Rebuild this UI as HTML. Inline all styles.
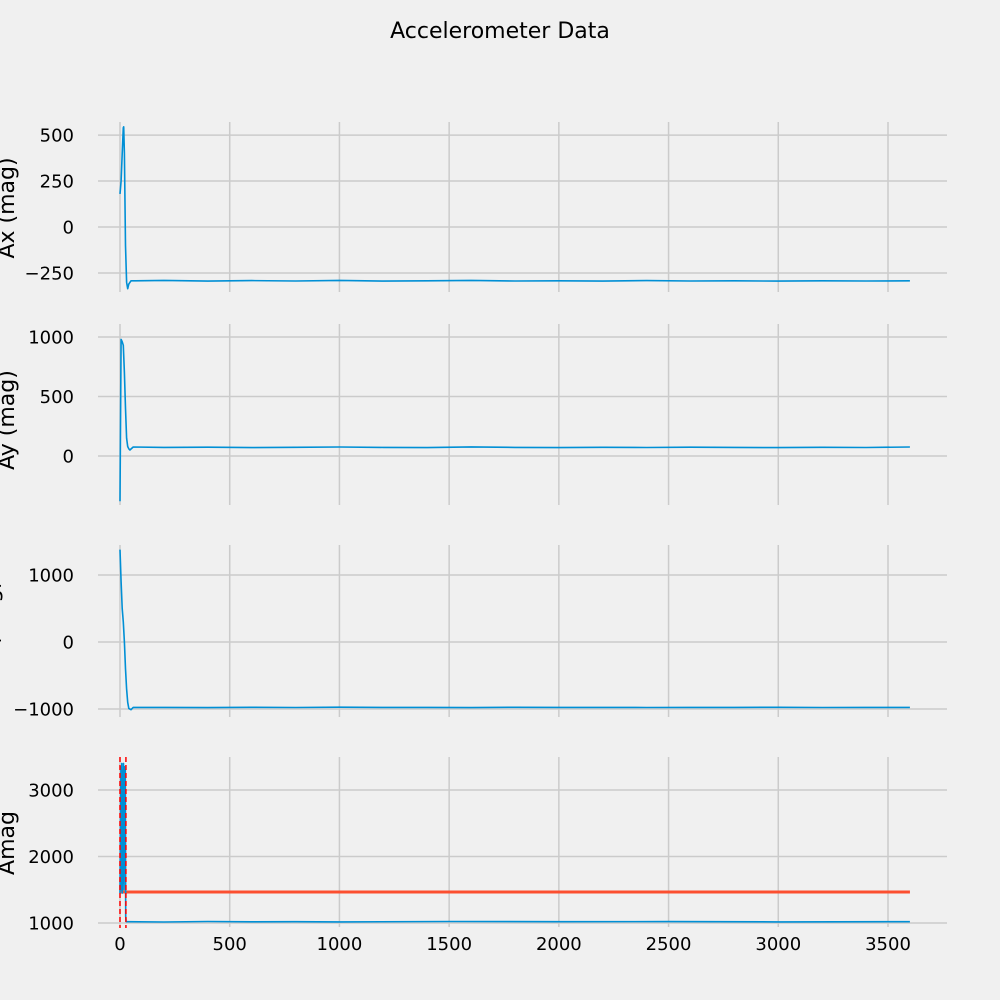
<!DOCTYPE html>
<html><head><meta charset="utf-8"><style>
html,body{margin:0;padding:0;background:#f0f0f0;}
svg{display:block;font-family:"DejaVu Sans","Liberation Sans",sans-serif;}
</style></head><body>
<svg id="chart" width="1000" height="1000" viewBox="0 0 1000 1000">
<rect x="0" y="0" width="1000" height="1000" fill="#f0f0f0"/>
<text x="500" y="38" text-anchor="middle" font-size="22" fill="#000">Accelerometer Data</text>
</svg>
<script>
const xTicks=[0,500,1000,1500,2000,2500,3000,3500];
const axX=[0,5,10,15,17,20,25,30,35,40,50,70,200,400,600,800,1000,1200,1400,1600,1800,2000,2200,2400,2600,2800,3000,3200,3400,3600];
const axY=[180,250,400,540,545,400,-100,-300,-335,-310,-292,-292,-290,-294,-291,-293,-290,-294,-292,-290,-293,-292,-294,-291,-293,-292,-294,-292,-293,-292];
const ayX=[0,3,5,10,15,20,25,30,35,40,45,60,200,400,600,800,1000,1200,1400,1600,1800,2000,2200,2400,2600,2800,3000,3200,3400,3600];
const ayY=[-380,500,980,960,930,700,400,150,80,60,50,75,72,74,70,73,75,72,70,76,72,70,73,71,74,72,70,73,71,75];
const azX=[0,5,10,15,20,25,30,35,40,50,60,200,400,600,800,1000,1200,1400,1600,1800,2000,2200,2400,2600,2800,3000,3200,3400,3600];
const azY=[1380,900,500,300,0,-400,-700,-900,-990,-1010,-975,-975,-978,-974,-977,-973,-976,-975,-978,-974,-976,-975,-977,-975,-976,-974,-977,-975,-976];
const amX=[0,2,4,6,8,10,12,14,16,18,20,22,24,26,28,30,200,400,600,800,1000,1500,2000,2500,3000,3600];
const amY=[1450,2300,3350,1500,3400,1450,3300,1600,3400,1500,3350,1800,3300,1100,1020,1020,1015,1022,1018,1020,1016,1022,1019,1021,1017,1020];
const thrVal=1466; const thrX=[0,3600]; const windowX=[0,27];
const panels=[
 {name:'ax',label:'Ax (mag)',top:122,bot:292,min:-353,max:571,ticks:[-250,0,250,500],tlab:['\u2212250','0','250','500'],xs:axX,ys:axY,ly:208,lx:14},
 {name:'ay',label:'Ay (mag)',top:324,bot:505,min:-412,max:1109,ticks:[0,500,1000],tlab:['0','500','1000'],xs:ayX,ys:ayY,ly:420,lx:14},
 {name:'az',label:'Az (mag)',top:545,bot:717,min:-1119,max:1448,ticks:[-1000,0,1000],tlab:['\u22121000','0','1000'],xs:azX,ys:azY,ly:630,lx:-2},
 {name:'amag',label:'Amag',top:757,bot:927,min:940,max:3496,ticks:[1000,2000,3000],tlab:['1000','2000','3000'],xs:amX,ys:amY,ly:843,lx:14}
];
const svg=document.getElementById('chart');const NS='http://www.w3.org/2000/svg';
const L=98,R=947;
function sx(v){return 120+v*(888-120)/3500;}
function mk(t,a,p){const e=document.createElementNS(NS,t);for(const k in a)e.setAttribute(k,a[k]);(p||svg).appendChild(e);return e;}
panels.forEach((p,i)=>{
 const sy=v=>p.bot-(v-p.min)/(p.max-p.min)*(p.bot-p.top);
 const g=mk('g',{});
 
 
 xTicks.forEach(t=>{const l=mk('line',{x1:sx(t),x2:sx(t),y1:p.top,y2:p.bot,stroke:'#cbcbcb','stroke-width':1.5},g);
  
  });
 p.ticks.forEach((t,j)=>{const l=mk('line',{x1:L,x2:R,y1:sy(t),y2:sy(t),stroke:'#cbcbcb','stroke-width':1.5},g);
  
  
  const tx=mk('text',{x:74,y:sy(t)+6.5,'text-anchor':'end','font-size':18,fill:'#000'},g);tx.textContent=p.tlab[j];
  
  });
 const lb=mk('text',{x:p.lx,y:p.ly,'text-anchor':'middle','font-size':22,fill:'#000',transform:`rotate(-90 ${p.lx} ${p.ly})`},g);lb.textContent=p.label;
 
 
 if(p.name==='amag'){
  const hl=mk('line',{x1:sx(thrX[0]),x2:sx(thrX[1]),y1:sy(thrVal),y2:sy(thrVal),stroke:'#fc4f30','stroke-width':3},g);
  
  
 }
 const d=p.xs.map((x,k)=>(k?'L':'M')+sx(x).toFixed(1)+','+sy(p.ys[k]).toFixed(1)).join('');
 const pa=mk('path',{d:d,fill:'none',stroke:'#008fd5','stroke-width':1.6,'stroke-linejoin':'round'},g);
 
 
 if(p.name==='amag'){
  windowX.forEach(w=>{const vl=mk('line',{x1:sx(w),x2:sx(w),y1:p.top,y2:p.bot+1,stroke:'#ff0000','stroke-width':1.5,'stroke-dasharray':'5,3'},g);
   
   });
 }
 if(i===3){xTicks.forEach(t=>{const tx=mk('text',{x:sx(t),y:p.bot+23,'text-anchor':'middle','font-size':18,fill:'#000'},g);tx.textContent=String(t);
  
  });}
});
</script>
</body></html>
